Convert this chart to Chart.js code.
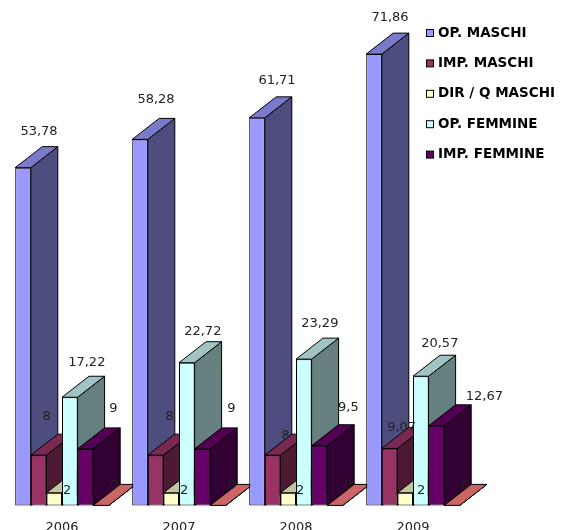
<!DOCTYPE html>
<html>
<head>
<meta charset="utf-8">
<style>
  html, body { margin: 0; padding: 0; background: #fff; }
  canvas { display: block; }
</style>
<script src="https://cdn.jsdelivr.net/npm/chart.js@4/dist/chart.umd.min.js"></script>
</head>
<body>
<canvas id="chart" width="563" height="530"></canvas>
<script>
const years = ["2006", "2007", "2008", "2009"];
const seriesNames = ["OP. MASCHI", "IMP. MASCHI", "DIR / Q MASCHI", "OP. FEMMINE", "IMP. FEMMINE", ""];

const opMaschi = [53.78, 58.28, 61.71, 71.86];
const impMaschi = [8, 8, 8, 9.07];
const dirMaschi = [2, 2, 2, 2];
const opFemmine = [17.22, 22.72, 23.29, 20.57];
const impFemmine = [9, 9, 9.5, 12.67];
const altro = [0, 0, 0, 0];

const seriesValues = [opMaschi, impMaschi, dirMaschi, opFemmine, impFemmine, altro];

const fronts = ["#9999ff", "#993366", "#ffffcc", "#ccffff", "#660066", "#ff8080"];
const tops = ["#7a7acc", "#7a2952", "#c4c4a0", "#a0c4c4", "#520052", "#cc6666"];
const sides = ["#4d4d80", "#4d1a33", "#808066", "#668080", "#330033", "#804040"];

// where each value label sits relative to the top of its bar, [series][year]
const labelDx = [
    [16, 16, 20, 16],
    [8, 14, 13, 12],
    [13, 13, 12, 16],
    [17, 16, 16, 19],
    [28, 29, 29, 48],
    [13, 14, 13, 13]
];
const labelDy = [
    [-36, -40, -37, -36],
    [-39, -39, -20, -21],
    [-2, -2, -2, -2],
    [-35, -31, -36, -33],
    [-40, -40, -38, -29],
    [-20, -20, -20, -20]
];

const depthX = 27;
const depthY = -21;

function poly(ctx, pts, fill) {
    ctx.beginPath();
    ctx.moveTo(pts[0][0], pts[0][1]);
    pts.slice(1).forEach((p) => ctx.lineTo(p[0], p[1]));
    ctx.closePath();
    ctx.fillStyle = fill;
    ctx.fill();
    ctx.strokeStyle = "#000";
    ctx.lineWidth = 1;
    ctx.stroke();
}

const bars3d = {
    id: "bars3d",
    beforeDatasetsDraw(chart) {
        const ctx = chart.ctx;
        years.forEach((year, i) => {
            seriesValues.forEach((values, s) => {
                const bar = chart.getDatasetMeta(s).data[i];
                const l = bar.x - bar.width / 2;
                const r = bar.x + bar.width / 2;
                const t = bar.y;
                const b = bar.base;
                poly(ctx, [[r, t], [r + depthX, t + depthY], [r + depthX, b + depthY], [r, b]], sides[s]);
                poly(ctx, [[l, t], [l + depthX, t + depthY], [r + depthX, t + depthY], [r, t]], tops[s]);
                bar.draw(ctx);
            });
        });

        ctx.font = "13px 'DejaVu Sans'";
        ctx.fillStyle = "#222";
        ctx.textAlign = "center";
        ctx.textBaseline = "middle";
        years.forEach((year, i) => {
            seriesValues.forEach((values, s) => {
                const bar = chart.getDatasetMeta(s).data[i];
                const text = String(values[i]).replace(".", ",");
                ctx.fillText(text, bar.x + labelDx[s][i], bar.y + labelDy[s][i]);
            });
        });

        // legend sits over the plot area, and the last series has no entry
        ctx.textAlign = "left";
        ctx.font = "bold 13.5px 'DejaVu Sans'";
        seriesNames.slice(0, 5).forEach((name, s) => {
            const y = 33 + s * 30.4;
            ctx.fillStyle = fronts[s];
            ctx.fillRect(426.5, y - 3.5, 7, 7);
            ctx.strokeStyle = "#000";
            ctx.lineWidth = 1;
            ctx.strokeRect(426.5, y - 3.5, 7, 7);
            ctx.fillStyle = "#000";
            ctx.fillText(name, 438, y);
        });
        return false;
    }
};

new Chart(document.getElementById("chart"), {
    type: "bar",
    data: {
        labels: years,
        datasets: seriesValues.map((values, s) => ({
            label: seriesNames[s],
            data: values,
            backgroundColor: fronts[s],
            borderColor: "#000",
            borderWidth: 1,
            borderSkipped: false,
            barPercentage: 1,
            categoryPercentage: 0.8
        }))
    },
    options: {
        responsive: false,
        animation: false,
        layout: { padding: { left: 3.5, right: 91.5, top: 3, bottom: -11 } },
        plugins: { legend: { display: false }, tooltip: { enabled: false } },
        scales: {
            x: {
                grid: { display: false },
                border: { display: false },
                ticks: { color: "#222", padding: 6, font: { family: "DejaVu Sans", size: 13 } }
            },
            y: {
                display: false,
                min: 0,
                max: 80
            }
        }
    },
    plugins: [bars3d]
});
</script>
</body>
</html>
